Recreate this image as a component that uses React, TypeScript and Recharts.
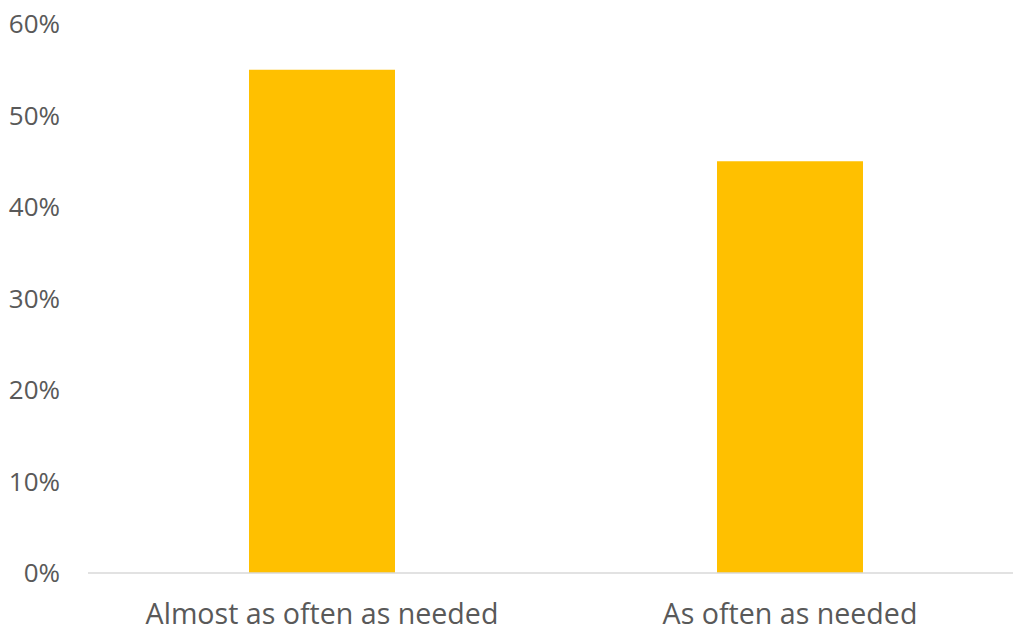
import { BarChart, Bar, XAxis, YAxis } from 'recharts'

const categories = ['Almost as often as needed', 'As often as needed']
const shares = [0.55, 0.45]
const yTicks = [0, 0.1, 0.2, 0.3, 0.4, 0.5, 0.6]

const data = categories.map((name, i) => ({ name, value: shares[i] }))

const TEXT = '#595959'
const FONT = '"Open Sans", sans-serif'

export default function App() {
  return (
    <div style={{ position: 'absolute', left: 0, top: 0, background: '#fff', fontFamily: FONT }}>
      <BarChart
        width={1013}
        height={628}
        data={data}
        margin={{ top: 24, right: -11, left: 0, bottom: 0 }}
        barSize={146}
      >
        <XAxis
          dataKey="name"
          height={55}
          tickLine={false}
          tickMargin={25}
          axisLine={{ stroke: '#D9D9D9', strokeWidth: 1.5 }}
          tick={{ fill: TEXT, fontSize: 28.6, fontFamily: FONT }}
          interval={0}
        />
        <YAxis
          width={88}
          domain={[0, 0.6]}
          ticks={yTicks}
          tickFormatter={v => `${Math.round(v * 100)}%`}
          axisLine={false}
          tickLine={false}
          tickMargin={22}
          tick={{ fill: TEXT, fontSize: 26, fontFamily: FONT }}
        />
        <Bar dataKey="value" fill="#FFC000" isAnimationActive={false} />
      </BarChart>
    </div>
  )
}
